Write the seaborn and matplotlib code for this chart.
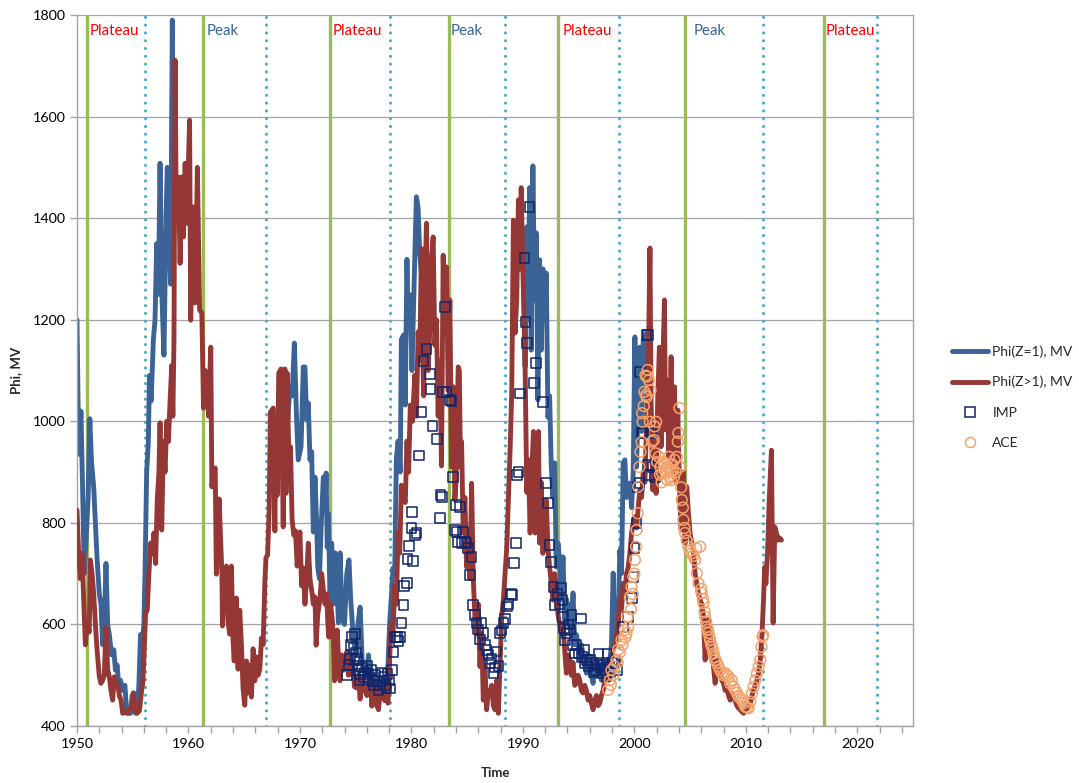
import numpy as np
import pandas as pd
import matplotlib
matplotlib.use("Agg")
import matplotlib.pyplot as plt
from matplotlib.lines import Line2D
from matplotlib.ticker import MultipleLocator
import seaborn as sns

nan = np.nan

# ---------------------------------------------------------------- data
# Modulation potential for protons, Phi(Z=1), MV (gaps where no values)
z1_year = [
    1950.0, 1950.1, 1950.25, 1950.35, 1950.5, 1950.65, 1950.8, 1951.0, 1951.15, 1951.3,
    1951.5, 1951.65, 1951.8, 1952.0, 1952.15, 1952.3, 1952.45, 1952.6, 1952.75, 1952.9,
    1953.1, 1953.3, 1953.45, 1953.6, 1953.75, 1953.9, 1954.1, 1954.3, 1954.45, 1954.6,
    1954.8, 1954.95, 1955.1, 1955.25, 1955.4, 1955.55, 1955.7, 1955.85, 1956.0, 1956.1,
    1956.25, 1956.4, 1956.5, 1956.65, 1956.85, 1957.0, 1957.15, 1957.3, 1957.45, 1957.6,
    1957.8, 1958.0, 1958.1, 1958.25, 1958.4, 1958.55, 1958.65,
    1963.0,
    1968.9, 1969.1, 1969.3, 1969.5, 1969.7, 1969.85, 1970.1, 1970.3, 1970.45, 1970.6,
    1970.75, 1970.9, 1971.05, 1971.2, 1971.35, 1971.5, 1971.6, 1971.75, 1971.9, 1972.1,
    1972.25, 1972.35, 1972.45, 1972.55, 1972.7, 1972.85, 1973.0, 1973.15, 1973.3, 1973.45,
    1973.6, 1973.8, 1974.0, 1974.2, 1974.4, 1974.55, 1974.8, 1975.0, 1975.2, 1975.4,
    1975.6, 1975.8, 1976.0, 1976.15, 1976.3, 1976.5, 1976.7, 1976.9, 1977.1, 1977.3,
    1977.5, 1977.7, 1977.9, 1978.05, 1978.2, 1978.35, 1978.5, 1978.65, 1978.8, 1979.0,
    1979.1, 1979.3, 1979.45, 1979.6, 1979.7, 1979.9, 1980.05, 1980.3, 1980.45, 1980.6,
    1980.75, 1981.05, 1981.35,
    1985.0,
    1989.6, 1989.8, 1990.05, 1990.2, 1990.35, 1990.5, 1990.6, 1990.75, 1990.9, 1991.05,
    1991.2, 1991.35, 1991.5, 1991.65, 1991.8, 1991.95, 1992.1, 1992.25, 1992.4, 1992.55,
    1992.7, 1992.85, 1993.0, 1993.15, 1993.3, 1993.45, 1993.6, 1993.75, 1993.9, 1994.05,
    1994.2, 1994.35, 1994.5, 1994.65, 1994.8, 1994.95, 1995.1, 1995.25, 1995.4, 1995.55,
    1995.7, 1995.85, 1996.0, 1996.15, 1996.3, 1996.45, 1996.6, 1996.75, 1996.9, 1997.05,
    1997.2, 1997.35, 1997.5, 1997.65, 1997.8, 1997.95, 1998.1, 1998.25, 1998.4, 1998.55,
    1998.7, 1998.85, 1999.0, 1999.15, 1999.3, 1999.45, 1999.6, 1999.75, 1999.9, 2000.05,
    2000.2, 2000.35, 2000.5, 2000.65, 2000.8, 2000.95, 2001.1, 2001.2,
]
z1_phi = [
    1200, 1030, 935, 1020, 870, 700, 760, 850, 1005, 920,
    870, 800, 730, 660, 640, 560, 600, 720, 600, 580,
    540, 550, 510, 520, 480, 490, 470, 480, 430, 425,
    425, 460, 465, 425, 430, 480, 580, 560, 600, 700,
    900, 960, 1090, 1040, 1160, 1200, 1350, 1250, 1508, 1258,
    1130, 1415, 1500, 1380, 1270, 1790, 1400,
    nan,
    1000, 1068, 1050, 1154, 1003, 924, 950, 1107, 1107, 1003,
    1036, 924, 940, 782, 890, 800, 711, 690, 790, 890,
    830, 898, 752, 818, 647, 760, 640, 741, 700, 603,
    741, 609, 600, 700, 727, 650, 570, 540, 600, 634,
    520, 510, 500, 540, 480, 490, 445, 470, 490, 460,
    480, 470, 520, 603, 654, 711, 700, 926, 961, 900,
    1161, 1170, 1032, 1319, 1200, 1249, 1100, 1319, 1442, 1420,
    1330, 1249, 1119,
    nan,
    1300, 1380, 1371, 1107, 1383, 1200, 1460, 1140, 1503, 1239,
    1371, 1042, 1318, 1140, 1300, 1200, 1292, 1008, 1050, 910,
    850, 918, 713, 760, 727, 650, 733, 610, 650, 600,
    640, 580, 662, 560, 580, 560, 530, 560, 540, 520,
    504, 540, 530, 500, 484, 520, 530, 500, 510, 490,
    530, 520, 504, 515, 530, 560, 701, 560, 580, 610,
    746, 700, 918, 924, 850, 870, 878, 830, 900, 1166,
    910, 1042, 1146, 980, 1160, 1160, 1174, 1068,
]

# Modulation potential for heavier nuclei, Phi(Z>1), MV
zgt1_year = [
    1950.0, 1950.15, 1950.3, 1950.45, 1950.6, 1950.75, 1950.9, 1951.1, 1951.2, 1951.35,
    1951.5, 1951.65, 1951.8, 1952.0, 1952.15, 1952.3, 1952.45, 1952.6, 1952.75, 1952.9,
    1953.05, 1953.2, 1953.35, 1953.5, 1953.65, 1953.8, 1953.95, 1954.1, 1954.3, 1954.5,
    1954.7, 1954.9, 1955.05, 1955.2, 1955.4, 1955.6, 1955.8, 1955.9, 1956.0, 1956.15,
    1956.3, 1956.45, 1956.6, 1956.75, 1956.9, 1957.05, 1957.2, 1957.35, 1957.45, 1957.6,
    1957.75, 1957.9, 1958.05, 1958.2, 1958.35, 1958.5, 1958.6, 1958.7, 1958.8, 1958.9,
    1959.1, 1959.25, 1959.4, 1959.55, 1959.7, 1959.85, 1960.1, 1960.2, 1960.4, 1960.6,
    1960.8, 1961.0, 1961.2, 1961.35, 1961.5, 1961.65, 1961.8, 1962.0, 1962.1, 1962.25,
    1962.4, 1962.5, 1962.65, 1962.75, 1962.9, 1963.0, 1963.05, 1963.15, 1963.3, 1963.4,
    1963.55, 1963.7, 1963.85, 1964.0, 1964.1, 1964.3, 1964.45, 1964.6, 1964.75, 1964.9,
    1965.05, 1965.2, 1965.35, 1965.5, 1965.65, 1965.8, 1965.95, 1966.1, 1966.25, 1966.4,
    1966.55, 1966.7, 1966.85, 1966.95, 1967.1, 1967.25, 1967.35, 1967.5, 1967.6, 1967.75,
    1967.85, 1967.95, 1968.1, 1968.3, 1968.5, 1968.65, 1968.75, 1968.85, 1969.0, 1969.15,
    1969.3, 1969.45, 1969.6, 1969.75, 1969.9, 1970.0, 1970.15, 1970.3, 1970.45, 1970.6,
    1970.75, 1970.9, 1971.1, 1971.2, 1971.35, 1971.45, 1971.6, 1971.8, 1971.95, 1972.1,
    1972.25, 1972.4, 1972.5, 1972.6, 1972.75, 1972.9, 1973.0, 1973.1, 1973.2, 1973.35,
    1973.5, 1973.6, 1973.75, 1973.9, 1974.05, 1974.2, 1974.35, 1974.5, 1974.7, 1974.9,
    1975.1, 1975.25, 1975.4, 1975.55, 1975.7, 1975.85, 1976.0, 1976.15, 1976.3, 1976.45,
    1976.6, 1976.75, 1976.9, 1977.05, 1977.2, 1977.4, 1977.6, 1977.75, 1977.9, 1978.1,
    1978.2, 1978.35, 1978.5, 1978.65, 1978.8, 1978.95, 1979.1, 1979.3, 1979.45, 1979.6,
    1979.75, 1979.9, 1980.1, 1980.3, 1980.45, 1980.6, 1980.75, 1980.9, 1981.0, 1981.1,
    1981.25, 1981.35, 1981.5, 1981.65, 1981.8, 1981.95, 1982.1, 1982.25, 1982.4, 1982.55,
    1982.7, 1982.85, 1983.0, 1983.15, 1983.3, 1983.45, 1983.6, 1983.75, 1983.9, 1984.0,
    1984.2, 1984.3, 1984.4, 1984.5, 1984.65, 1984.8, 1984.95, 1985.1, 1985.25, 1985.4,
    1985.55, 1985.7, 1985.85, 1986.0, 1986.15, 1986.3, 1986.45, 1986.6, 1986.75, 1986.9,
    1987.05, 1987.2, 1987.35, 1987.5, 1987.65, 1987.8, 1987.95, 1988.1, 1988.25, 1988.4,
    1988.55, 1988.7, 1988.85, 1989.0, 1989.15, 1989.3, 1989.45, 1989.6, 1989.75, 1989.85,
    1990.0, 1990.2, 1990.35, 1990.5, 1990.65, 1990.8, 1990.95, 1991.1, 1991.25, 1991.4,
    1991.5, 1991.65, 1991.8, 1991.95, 1992.1, 1992.25, 1992.4, 1992.55, 1992.7, 1992.85,
    1993.0, 1993.15, 1993.3, 1993.45, 1993.6, 1993.75, 1993.9, 1994.05, 1994.2, 1994.35,
    1994.5, 1994.65, 1994.8, 1994.95, 1995.1, 1995.25, 1995.4, 1995.55, 1995.7, 1995.85,
    1996.0, 1996.15, 1996.3, 1996.45, 1996.6, 1996.75, 1996.9, 1997.05, 1997.2, 1997.35,
    1997.5, 1997.65, 1997.8, 1997.95, 1998.1, 1998.25, 1998.4, 1998.55, 1998.7, 1998.85,
    1999.0, 1999.15, 1999.3, 1999.45, 1999.6, 1999.75, 1999.9, 2000.05, 2000.2, 2000.35,
    2000.5, 2000.65, 2000.8, 2000.95, 2001.1, 2001.25, 2001.4, 2001.5, 2001.65, 2001.8,
    2001.95, 2002.1, 2002.25, 2002.4, 2002.55, 2002.7, 2002.8, 2002.95, 2003.1, 2003.3,
    2003.45, 2003.6, 2003.75, 2003.9, 2004.05, 2004.2, 2004.4, 2004.55, 2004.7, 2004.85,
    2005.0, 2005.15, 2005.3, 2005.45, 2005.6, 2005.75, 2005.9, 2006.05, 2006.2, 2006.35,
    2006.5, 2006.65, 2006.8, 2006.95, 2007.1, 2007.25, 2007.4, 2007.55, 2007.7, 2007.85,
    2008.0, 2008.15, 2008.3, 2008.45, 2008.6, 2008.75, 2008.9, 2009.05, 2009.2, 2009.35,
    2009.5, 2009.65, 2009.8, 2009.95, 2010.1, 2010.25, 2010.4, 2010.55, 2010.7, 2010.85,
    2011.0, 2011.15, 2011.3, 2011.45, 2011.55, 2011.7, 2011.8, 2011.95, 2012.1, 2012.3,
    2012.45, 2012.6, 2012.75, 2012.9, 2013.05, 2013.2,
]
zgt1_phi = [
    825, 740, 690, 740, 650, 560, 600, 585, 727, 700,
    660, 600, 550, 497, 484, 490, 500, 595, 510, 497,
    470, 451, 497, 480, 484, 460, 451, 425, 428, 425,
    430, 440, 465, 430, 425, 430, 470, 484, 530, 622,
    628, 700, 760, 740, 780, 720, 845, 900, 997, 786,
    960, 900, 1000, 960, 1040, 1110, 1010, 1160, 1711, 1416,
    1481, 1311, 1481, 1363, 1508, 1390, 1593, 1199, 1422, 1233,
    1500, 1219, 1213, 1026, 1100, 1087, 1010, 1146, 871, 900,
    908, 699, 780, 847, 760, 699, 597, 668, 640, 715,
    605, 581, 715, 567, 528, 652, 512, 628, 560, 473,
    441, 528, 465, 520, 457, 552, 489, 536, 500, 512,
    573, 560, 681, 731, 737, 832, 1018, 1022, 1026, 784,
    1002, 854, 1095, 1103, 792, 1103, 858, 1095, 932, 950,
    806, 776, 784, 715, 760, 782, 676, 711, 640, 690,
    760, 690, 660, 640, 654, 559, 620, 650, 700, 668,
    640, 660, 603, 575, 640, 610, 575, 489, 560, 589,
    510, 489, 540, 510, 520, 546, 500, 502, 530, 477,
    475, 500, 453, 490, 470, 470, 460, 485, 502, 439,
    480, 470, 440, 432, 470, 460, 450, 470, 445, 560,
    603, 580, 676, 640, 782, 740, 874, 850, 840, 961,
    900, 1032, 1000, 1091, 1010, 1176, 1120, 1340, 1150, 1050,
    1300, 1390, 1100, 1180, 1319, 1363, 1150, 1200, 1010, 1120,
    912, 1327, 1174, 1304, 1060, 1239, 910, 1068, 845, 880,
    1107, 1100, 910, 960, 780, 850, 713, 780, 690, 878,
    690, 615, 583, 640, 517, 583, 451, 520, 432, 470,
    460, 480, 440, 432, 490, 425, 520, 615, 648, 700,
    750, 845, 941, 1055, 1396, 1174, 1239, 1436, 1300, 1460,
    1300, 1107, 860, 924, 780, 900, 980, 780, 850, 980,
    760, 880, 740, 800, 845, 750, 713, 680, 648, 700,
    668, 620, 600, 583, 600, 550, 504, 540, 530, 500,
    525, 480, 484, 500, 490, 470, 465, 480, 470, 451,
    460, 445, 432, 450, 460, 440, 445, 460, 470, 490,
    504, 490, 520, 530, 550, 560, 580, 600, 648, 630,
    681, 660, 700, 713, 740, 780, 800, 812, 790, 830,
    865, 850, 900, 880, 1000, 1107, 1341, 1048, 865, 983,
    858, 1048, 1146, 950, 1100, 1239, 983, 1081, 930, 1127,
    900, 1068, 880, 1022, 865, 786, 900, 760, 871, 820,
    780, 760, 746, 700, 681, 660, 648, 640, 615, 530,
    590, 610, 583, 550, 517, 484, 530, 500, 510, 490,
    484, 470, 475, 460, 451, 465, 455, 450, 440, 435,
    432, 428, 425, 430, 435, 440, 445, 460, 471, 480,
    490, 505, 530, 580, 628, 713, 680, 740, 845, 943,
    603, 792, 780, 766, 770, 766,
]

# Spacecraft estimates
imp_year = [
    1974.2, 1974.35, 1974.5, 1974.6, 1974.65, 1974.8, 1974.9, 1974.95, 1975.05, 1975.1,
    1975.2, 1975.25, 1975.35, 1975.4, 1975.55, 1975.7, 1975.85, 1976.0, 1976.1, 1976.15,
    1976.3, 1976.4, 1976.5, 1976.6, 1976.75, 1976.9, 1977.05, 1977.2, 1977.35, 1977.5,
    1977.65, 1977.75, 1977.85, 1978.0, 1978.1, 1978.25, 1978.4, 1978.55, 1978.7, 1978.85,
    1979.0, 1979.1, 1979.3, 1979.35, 1979.6, 1979.65, 1979.8, 1980.0, 1980.05, 1980.15,
    1980.3, 1980.45, 1980.7, 1980.9, 1981.1, 1981.35, 1981.65, 1981.7, 1981.9, 1982.3,
    1982.55, 1982.6, 1982.75, 1982.85, 1983.0, 1983.15, 1983.45, 1983.6, 1983.75, 1983.9,
    1984.0, 1984.05, 1984.2, 1984.35, 1984.5, 1984.65, 1984.8, 1984.95, 1985.1, 1985.25,
    1985.4, 1985.55, 1985.7, 1985.85, 1986.0, 1986.15, 1986.3, 1986.45, 1986.6, 1986.75,
    1986.9, 1987.05, 1987.2, 1987.35, 1987.5, 1987.65, 1987.8, 1987.95, 1988.1, 1988.25,
    1988.4, 1988.55, 1988.7, 1988.95, 1989.0, 1989.2, 1989.4, 1989.45, 1989.6, 1989.75,
    1990.15, 1990.25, 1990.35, 1990.6, 1991.0, 1991.2, 1991.8, 1992.1, 1992.25, 1992.4,
    1992.55, 1992.75, 1992.9, 1993.1, 1993.3, 1993.4, 1993.55, 1993.6, 1993.7, 1993.8,
    1993.95, 1994.1, 1994.25, 1994.35, 1994.5, 1994.65, 1994.8, 1995.0, 1995.2, 1995.3,
    1995.5, 1995.6, 1995.75, 1995.9, 1996.05, 1996.2, 1996.35, 1996.5, 1996.65, 1996.8,
    1996.95, 1997.1, 1997.25, 1997.35, 1997.5, 1997.6, 1997.7, 1997.85, 1998.0, 1998.2,
    1998.3, 1998.5, 1999.0, 1999.45, 1999.8, 1999.9, 2000.0, 2000.2, 2000.35, 2000.45,
    2000.5, 2000.65, 2000.75, 2001.1, 2001.2, 2001.25, 2001.3, 2001.55, 2001.7, 2001.85,
]
imp_phi = [
    500, 520, 532, 560, 575, 554, 530, 581, 545, 532,
    510, 518, 490, 503, 515, 496, 505, 518, 490, 503,
    495, 510, 488, 481, 500, 488, 470, 481, 505, 496,
    481, 475, 503, 490, 474, 510, 546, 575, 575, 567,
    575, 603, 638, 676, 682, 729, 754, 790, 821, 725,
    776, 780, 933, 1018, 1119, 1142, 1093, 1064, 991, 965,
    810, 855, 851, 1058, 1225, 1058, 1042, 1040, 890, 786,
    835, 782, 762, 831, 760, 782, 762, 760, 750, 697,
    733, 638, 618, 603, 590, 570, 603, 583, 560, 550,
    540, 524, 532, 504, 515, 547, 518, 583, 588, 603,
    611, 635, 640, 660, 658, 721, 760, 894, 900, 1055,
    1321, 1196, 1154, 1422, 1075, 1115, 1038, 879, 839, 756,
    723, 674, 638, 660, 640, 672, 648, 615, 592, 569,
    583, 600, 590, 618, 560, 543, 560, 543, 612, 536,
    550, 524, 530, 517, 530, 524, 505, 510, 520, 543,
    515, 504, 520, 510, 498, 543, 517, 505, 524, 524,
    530, 510, 595, 615, 652, 694, 750, 800, 871, 878,
    1097, 977, 977, 1170, 1170, 914, 894, 977, 910, 890,
]

ace_year = [
    1997.65, 1997.8, 1997.9, 1997.95, 1998.1, 1998.2, 1998.4, 1998.5, 1998.55, 1998.7,
    1998.85, 1998.95, 1999.15, 1999.2, 1999.3, 1999.4, 1999.45, 1999.6, 1999.7, 1999.75,
    1999.85, 1999.9, 2000.0, 2000.05, 2000.15, 2000.2, 2000.3, 2000.35, 2000.45, 2000.55,
    2000.65, 2000.7, 2000.75, 2000.85, 2000.9, 2001.0, 2001.05, 2001.1, 2001.15, 2001.2,
    2001.3, 2001.4, 2001.45, 2001.6, 2001.75, 2001.8, 2001.9, 2001.95, 2002.05, 2002.2,
    2002.3, 2002.35, 2002.45, 2002.5, 2002.6, 2002.7, 2002.8, 2002.85, 2002.95, 2003.0,
    2003.1, 2003.15, 2003.25, 2003.3, 2003.4, 2003.45, 2003.55, 2003.6, 2003.7, 2003.8,
    2003.9, 2003.95, 2004.05, 2004.1, 2004.2, 2004.25, 2004.35, 2004.4, 2004.5, 2004.55,
    2004.7, 2004.85, 2005.0, 2005.15, 2005.3, 2005.45, 2005.55, 2005.6, 2005.75, 2005.9,
    2006.0, 2006.05, 2006.15, 2006.2, 2006.3, 2006.35, 2006.45, 2006.5, 2006.6, 2006.65,
    2006.75, 2006.8, 2006.9, 2006.95, 2007.05, 2007.1, 2007.2, 2007.25, 2007.4, 2007.55,
    2007.7, 2007.85, 2008.0, 2008.15, 2008.3, 2008.45, 2008.6, 2008.75, 2008.9, 2009.05,
    2009.2, 2009.35, 2009.5, 2009.65, 2009.8, 2009.95, 2010.1, 2010.25, 2010.4, 2010.55,
    2010.7, 2010.85, 2011.0, 2011.15, 2011.3, 2011.4, 2011.5, 2011.55,
]
ace_phi = [
    471, 490, 481, 510, 500, 517, 530, 525, 550, 545,
    569, 560, 589, 575, 583, 615, 595, 654, 630, 674,
    660, 694, 700, 727, 753, 786, 819, 871, 910, 940,
    959, 1016, 999, 1030, 1058, 1090, 1052, 1048, 1088, 1101,
    1081, 999, 1061, 960, 963, 990, 937, 999, 920, 930,
    895, 910, 880, 898, 920, 916, 900, 905, 885, 910,
    930, 890, 900, 884, 915, 903, 890, 924, 900, 930,
    960, 977, 1026, 910, 870, 845, 830, 806, 790, 780,
    765, 753, 745, 740, 735, 727, 750, 701, 681, 753,
    670, 662, 650, 642, 625, 615, 605, 595, 590, 583,
    575, 569, 560, 556, 550, 543, 535, 530, 525, 517,
    510, 504, 500, 504, 500, 497, 484, 490, 477, 471,
    465, 458, 455, 451, 445, 438, 436, 435, 448, 464,
    477, 490, 504, 517, 530, 556, 576, 579,
]

# Cycle phase boundaries (solid) and polarity reversals (dotted)
phase_start_year = [1950.9, 1961.3, 1972.7, 1983.4, 1993.15, 2004.55, 2017.0]
reversal_year = [1956.1, 1966.95, 1978.1, 1988.4, 1998.6, 2011.5, 2021.75]
phase_names = ["Plateau", "Peak", "Plateau", "Peak", "Plateau", "Peak", "Plateau"]
phase_label_year = [1951.1, 1961.65, 1972.9, 1983.55, 1993.6, 2005.35, 2017.2]

# ---------------------------------------------------------------- style
BLUE = "#3B6396"
RED = "#953735"
NAVY = "#10256B"
ORANGE = "#F5A36C"
GREEN = "#9BBB59"
CYAN = "#4BACC6"
GRID = "#A3A3A3"
PHASE_COLORS = {"Plateau": "#FF0000", "Peak": "#35649A"}

sns.set_theme(style="white")
plt.rcParams["font.family"] = ["Lato", "DejaVu Sans"]
plt.rcParams["axes.edgecolor"] = GRID
plt.rcParams["xtick.color"] = GRID
plt.rcParams["ytick.color"] = GRID
plt.rcParams["xtick.labelcolor"] = "black"
plt.rcParams["ytick.labelcolor"] = "black"

fig = plt.figure(figsize=(10.79, 7.83), dpi=100)
ax = fig.add_axes([77 / 1079, 1 - 726 / 783, 836 / 1079, 711 / 783])


def as_segments(years, values):
    frame = pd.DataFrame({"year": years, "phi": values})
    frame["segment"] = frame["phi"].isna().cumsum()
    return frame.dropna()


z1 = as_segments(z1_year, z1_phi)
zgt1 = as_segments(zgt1_year, zgt1_phi)

# horizontal grid
ax.set_axisbelow(True)
ax.yaxis.grid(True, color=GRID, linewidth=0.9)
ax.xaxis.grid(False)

# phase boundaries and reversals
for yr in phase_start_year:
    ax.axvline(yr, color=GREEN, linewidth=2.4, zorder=1)
for yr in reversal_year:
    ax.axvline(yr, color=CYAN, linewidth=2.2, linestyle=(0, (0.05, 2.5)),
               dash_capstyle="round", zorder=1)

line_kw = dict(estimator=None, sort=False, linewidth=3.5, legend=False,
               solid_joinstyle="round", solid_capstyle="round")
sns.lineplot(data=z1, x="year", y="phi", units="segment", color=BLUE, ax=ax,
             zorder=2, **line_kw)
sns.lineplot(data=zgt1, x="year", y="phi", units="segment", color=RED, ax=ax,
             zorder=3, **line_kw)

sns.scatterplot(x=imp_year, y=imp_phi, marker="s", s=48, facecolors="none",
                edgecolor=NAVY, linewidth=1.1, ax=ax, zorder=4, legend=False)
sns.scatterplot(x=ace_year, y=ace_phi, marker="o", s=60, facecolors="none",
                edgecolor=ORANGE, linewidth=1.1, ax=ax, zorder=5, legend=False)

for name, yr in zip(phase_names, phase_label_year):
    ax.text(yr, 1768, name, color=PHASE_COLORS[name], fontsize=10.8,
            ha="left", va="center", zorder=6)

# axes
ax.set_xlim(1950, 2025)
ax.set_ylim(400, 1800)
ax.xaxis.set_major_locator(MultipleLocator(10))
ax.xaxis.set_minor_locator(MultipleLocator(2))
ax.yaxis.set_major_locator(MultipleLocator(200))
ax.tick_params(axis="x", which="both", direction="out", length=5, width=1,
               labelsize=10.3, pad=4, bottom=True)
ax.tick_params(axis="y", which="major", direction="out", length=5, width=1,
               labelsize=10.3, pad=3, left=True)
for side in ["left", "bottom", "right"]:
    ax.spines[side].set_color(GRID)
    ax.spines[side].set_linewidth(1.0)
ax.spines["top"].set_visible(False)

ax.set_xlabel("Time", fontsize=9.5, fontweight="bold")
ax.set_ylabel("Phi, MV", fontsize=9.5, fontweight="bold")
ax.xaxis.set_label_coords(0.5, -0.058)
ax.yaxis.set_label_coords(-0.066, 0.5)

handles = [
    Line2D([], [], color=BLUE, linewidth=3.5),
    Line2D([], [], color=RED, linewidth=3.5),
    Line2D([], [], linestyle="none", marker="s", markersize=6.8,
           markerfacecolor="none", markeredgecolor=NAVY, markeredgewidth=1.1),
    Line2D([], [], linestyle="none", marker="o", markersize=7.2,
           markerfacecolor="none", markeredgecolor=ORANGE, markeredgewidth=1.1),
]
labels = ["Phi(Z=1), MV", "Phi(Z>1), MV", "IMP", "ACE"]
fig.legend(handles, labels, loc="upper left", bbox_to_anchor=(952 / 1079, 1 - 345 / 783),
           frameon=False, fontsize=10, handlelength=2.6, handletextpad=0.3,
           labelspacing=1.32, borderpad=0, borderaxespad=0)

fig.savefig("out.png", dpi=100)
